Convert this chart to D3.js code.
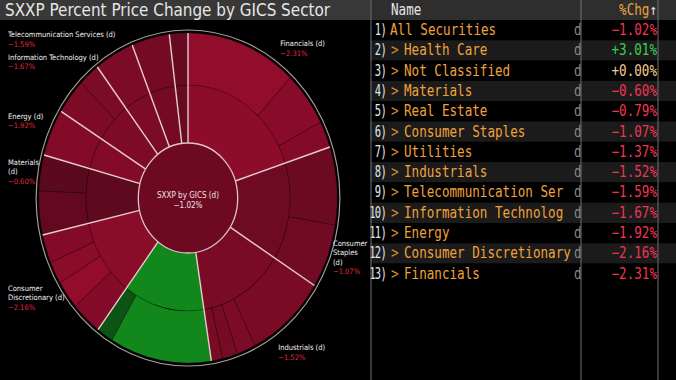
<!DOCTYPE html>
<html>
<head>
<meta charset="utf-8">
<script src="https://cdn.jsdelivr.net/npm/d3@7"></script>
<style>
  html, body { margin: 0; padding: 0; background: #000; }
  svg { display: block; }
</style>
</head>
<body>
<div id="chart"></div>
<script>

let width = 676;
let height = 380;

// ---- data ----
const indexName = "SXXP by GICS (d)";
const indexChange = -1.02;

// sectors in the order they sit round the wheel (clockwise from 12 o'clock)
const sectorNames = ["Financials", "Consumer Staples", "Industrials", "Health Care",
    "Consumer Discretionary", "Materials", "Energy", "Information Technology",
    "Telecommunication Services", "Utilities", "Real Estate"];
const sectorWeights = [20.0, 13.9, 13.6, 12.8, 11.1, 7.8, 4.6, 5.8, 4.3, 4.1, 2.0];
const sectorChanges = [-2.31, -1.07, -1.52, 3.01, -2.16, -0.60, -1.92, -1.67, -1.59, -1.37, -0.79];

// sub-industries (outer ring): share of the sector and % change
const subWeights = [
    [0.60, 0.27, 0.13],
    [0.55, 0.45],
    [0.64, 0.15, 0.12, 0.09],
    [0.86, 0.14],
    [0.30, 0.25, 0.20, 0.25],
    [0.55, 0.45],
    [1.0],
    [0.6, 0.4],
    [1.0],
    [1.0],
    [1.0]
];
const subChanges = [
    [-2.5, -2.1, -1.9],
    [-1.0, -1.2],
    [-1.5, -1.6, -1.4, -1.5],
    [3.3, 1.0],
    [-1.9, -2.8, -2.2, -1.9],
    [-0.7, -0.5],
    [-1.92],
    [-1.7, -1.6],
    [-1.59],
    [-1.37],
    [-0.79]
];

// chart labels shown on the wheel
const labelled = ["Financials", "Consumer Staples", "Industrials", "Consumer Discretionary",
    "Materials", "Energy", "Information Technology", "Telecommunication Services"];

// table
const tableNames = ["All Securities", "Health Care", "Not Classified", "Materials", "Real Estate",
    "Consumer Staples", "Utilities", "Industrials", "Telecommunication Ser",
    "Information Technolog", "Energy", "Consumer Discretionary", "Financials"];
const tableChanges = [-1.02, 3.01, 0.00, -0.60, -0.79, -1.07, -1.37, -1.52, -1.59, -1.67, -1.92, -2.16, -2.31];

// ---- svg ----
let svg = d3.select("#chart")
    .append("svg")
    .attr("width", width)
    .attr("height", height)
    .style("background", "#000");

// title bar
svg.append("rect")
    .attr("x", 0).attr("y", 0)
    .attr("width", width).attr("height", 20)
    .attr("fill", "#383838");

svg.append("text")
    .attr("x", 5).attr("y", 16)
    .attr("fill", "#e6e6e6")
    .style("font-family", "'DejaVu Sans Condensed', 'DejaVu Sans'")
    .style("font-size", "17px")
    .attr("textLength", 325)
    .attr("lengthAdjust", "spacingAndGlyphs")
    .text("SXXP Percent Price Change by GICS Sector");

// ---- sunburst ----
const cx = 188, cy = 198;
const squash = 0.904;          // the wheel is a little narrower than it is tall
const ringR = [0, 55, 113, 165];

let colorNeg = d3.scaleLinear()
    .domain([0, -1, -2.5])
    .range(["#4a0818", "#6c0a22", "#920c2b"])
    .clamp(true);
let colorPos = d3.scaleLinear()
    .domain([0, 3])
    .range(["#0a3a10", "#12881c"])
    .clamp(true);
const color = v => v >= 0 ? colorPos(v) : colorNeg(v);

let treeData = {
    name: indexName,
    change: indexChange,
    children: sectorNames.map((s, i) => ({
        name: s,
        change: sectorChanges[i],
        children: subWeights[i].map((w, j) => ({
            name: s + " " + j,
            change: subChanges[i][j],
            weight: w * sectorWeights[i]
        }))
    }))
};

let root = d3.hierarchy(treeData).sum(d => d.weight || 0);
d3.partition().size([2 * Math.PI, 3])(root);

let arc = d3.arc()
    .startAngle(d => d.x0)
    .endAngle(d => d.x1)
    .innerRadius(d => ringR[d.depth])
    .outerRadius(d => ringR[d.depth + 1]);

let wheel = svg.append("g")
    .attr("transform", `translate(${cx},${cy}) scale(${squash},1)`);

wheel.selectAll("path.cell")
    .data(root.descendants().filter(d => d.depth > 0))
    .join("path")
    .attr("class", "cell")
    .attr("d", arc)
    .attr("fill", d => color(d.data.change))
    .attr("stroke", "rgba(0,0,0,0.3)")
    .attr("stroke-width", 0.6)
    .attr("vector-effect", "non-scaling-stroke");

// sector dividers
wheel.selectAll("line.divider")
    .data(root.children)
    .join("line")
    .attr("class", "divider")
    .attr("x1", d => ringR[1] * Math.sin(d.x0))
    .attr("y1", d => -ringR[1] * Math.cos(d.x0))
    .attr("x2", d => ringR[3] * Math.sin(d.x0))
    .attr("y2", d => -ringR[3] * Math.cos(d.x0))
    .attr("stroke", "#e8cdd0")
    .attr("stroke-width", 1.4)
    .attr("vector-effect", "non-scaling-stroke");

// centre
wheel.append("circle")
    .attr("r", ringR[1])
    .attr("fill", color(indexChange))
    .attr("stroke", "#e0c4c8")
    .attr("stroke-width", 1.3)
    .attr("vector-effect", "non-scaling-stroke");

wheel.append("circle")
    .attr("r", ringR[3] + 3)
    .attr("fill", "none")
    .attr("stroke", "#a89a9c")
    .attr("stroke-width", 1.2)
    .attr("vector-effect", "non-scaling-stroke");

const smallFont = "'DejaVu Sans Condensed', 'DejaVu Sans'";

svg.append("text")
    .attr("x", cx).attr("y", cy)
    .attr("text-anchor", "middle")
    .attr("fill", "#f0e0e2")
    .style("font-family", smallFont)
    .style("font-size", "8px")
    .text(indexName);
svg.append("text")
    .attr("x", cx).attr("y", cy + 10)
    .attr("text-anchor", "middle")
    .attr("fill", "#f0e0e2")
    .style("font-family", smallFont)
    .style("font-size", "8px")
    .text(d3.format(".2f")(indexChange) + "%");

// wheel labels: placed just outside the mid angle; left-hand ones pinned to the edge
const labelLines = {
    "Consumer Staples": ["Consumer", "Staples", "(d)"],
    "Consumer Discretionary": ["Consumer", "Discretionary (d)"],
    "Materials": ["Materials", "(d)"]
};
const labelNudge = {
    "Financials": [-6, -2],
    "Consumer Staples": [-21, 25],
    "Industrials": [-2, -2],
    "Consumer Discretionary": [0, -8],
    "Materials": [0, -30],
    "Energy": [0, -6],
    "Information Technology": [0, -14],
    "Telecommunication Services": [0, 0]
};

root.children.filter(d => labelled.includes(d.data.name)).forEach(d => {
    let a = (d.x0 + d.x1) / 2;
    let lx = cx + 185 * squash * Math.sin(a);
    let ly = cy - 185 * Math.cos(a);
    if (Math.sin(a) < 0) lx = 8;
    let nudge = labelNudge[d.data.name];
    lx += nudge[0];
    ly += nudge[1];
    let lines = labelLines[d.data.name] || [d.data.name + " (d)"];
    let t = svg.append("text")
        .attr("x", lx).attr("y", ly)
        .style("font-family", smallFont)
        .style("font-size", "7.5px");
    lines.forEach((line, k) => {
        t.append("tspan")
            .attr("x", lx)
            .attr("dy", k === 0 ? 0 : 9.5)
            .attr("fill", "#f2f2f2")
            .text(line);
    });
    t.append("tspan")
        .attr("x", lx)
        .attr("dy", 9.5)
        .attr("fill", "#e0283f")
        .text(d3.format(".2f")(d.data.change) + "%");
});

// ---- table ----
const tx = 370;
const rowTop = 20, rowH = 20.3;
const monoFont = "'DejaVu Sans Mono', 'Liberation Mono', monospace";

svg.append("rect")
    .attr("x", tx).attr("y", 0)
    .attr("width", width - tx).attr("height", height)
    .attr("fill", "#000");
svg.append("rect")
    .attr("x", tx).attr("y", 0)
    .attr("width", width - tx).attr("height", 20)
    .attr("fill", "#2e2e2e");

let rows = svg.append("g").selectAll("g.row")
    .data(tableNames)
    .join("g")
    .attr("class", "row")
    .attr("transform", (d, i) => `translate(${tx},${rowTop + i * rowH})`);

rows.append("rect")
    .attr("width", width - tx)
    .attr("height", rowH)
    .attr("fill", (d, i) => i % 2 === 1 ? "#1b1b1b" : "#000");

function monoText(sel, x, y, str, sx) {
    return sel.append("text")
        .attr("transform", `translate(${x},${y}) scale(${sx || 0.84},1)`)
        .style("font-family", monoFont)
        .style("font-size", "15px")
        .text(str);
}

const fmtChg = v => (v >= 0 ? "+" : "") + d3.format(".2f")(v) + "%";

rows.each(function(d, i) {
    let r = d3.select(this);
    monoText(r, 16, 15, (i + 1) + ")", 0.7)
        .attr("text-anchor", "end")
        .attr("letter-spacing", "-1px")
        .attr("fill", "#e8e8e8");
    if (i === 0) {
        monoText(r, 20, 15, d).attr("fill", "#f0a23a");
    } else {
        monoText(r, 21, 15, ">").attr("fill", "#d08a30");
        monoText(r, 34, 15, d).attr("fill", "#f0a23a");
    }
    monoText(r, 204, 15, "d").attr("fill", "#8a8a8a");
    let v = tableChanges[i];
    monoText(r, 287, 15, fmtChg(v))
        .attr("text-anchor", "end")
        .attr("fill", v > 0 ? "#3ccf4e" : v === 0 ? "#f2cb8c" : "#ef3550");
});

// header
monoText(svg, tx + 21, 15, "Name").attr("fill", "#e6e6e6");
let hdr = monoText(svg, tx + 287, 15, "")
    .attr("text-anchor", "end");
hdr.append("tspan").attr("fill", "#f0a23a").text("%Chg");
hdr.append("tspan").attr("fill", "#e6e6e6").text("↑");

// column rules
[tx + 1, tx + 211, tx + 288].forEach(x => {
    svg.append("line")
        .attr("x1", x).attr("x2", x)
        .attr("y1", 0).attr("y2", height)
        .attr("stroke", "#707070")
        .attr("stroke-width", 1);
});

</script>
</body>
</html>
